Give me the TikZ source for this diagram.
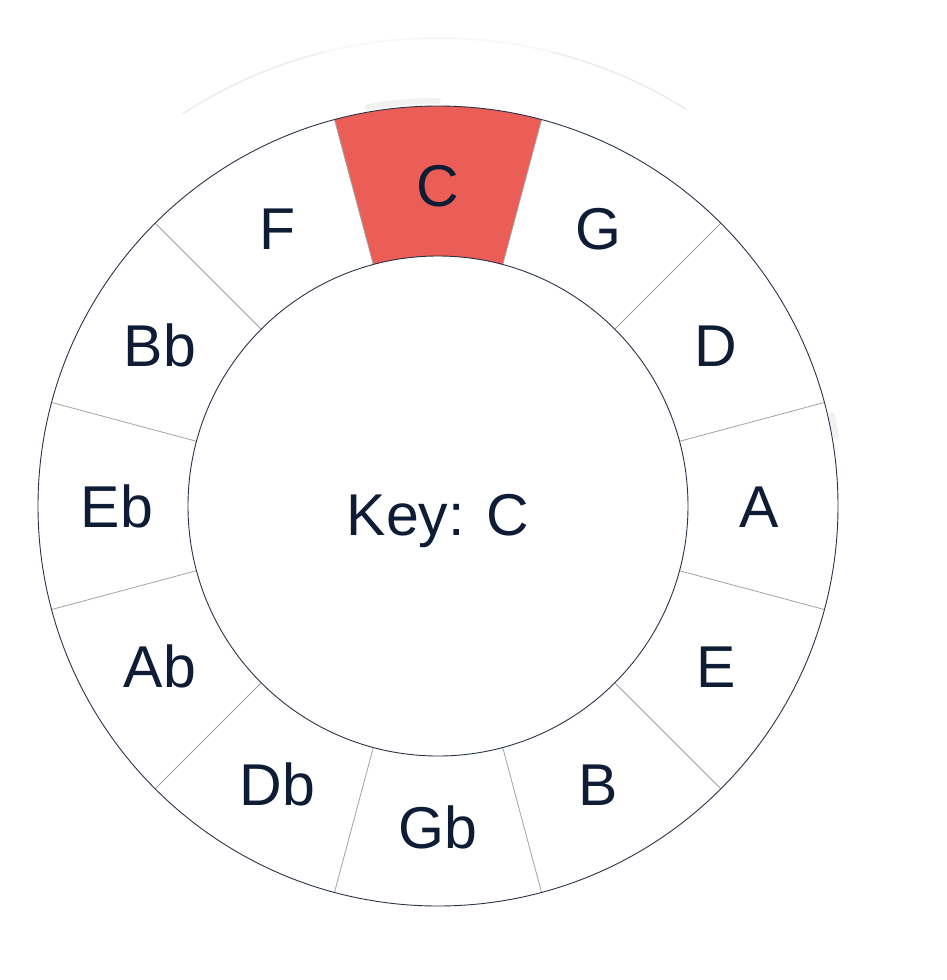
\documentclass[tikz,border=0pt]{standalone}
\usepackage{fontspec}
\setmainfont{Liberation Sans}
\definecolor{navy}{HTML}{0E1D35}
\definecolor{keyred}{HTML}{EA5E57}
\definecolor{ringcol}{HTML}{2A3346}
\definecolor{spokecol}{HTML}{A3A3A3}
\begin{document}
\begin{tikzpicture}[x=1pt,y=1pt,
  ring/.style={draw=ringcol,line width=0.9},
  spoke/.style={draw=spokecol,line width=0.8},
  note/.style={text=navy,inner sep=0,anchor=base,font=\fontsize{59}{70}\selectfont},
  faint/.style={line width=1.5},
  smudge/.style={draw=black!30,line width=6,line cap=round,opacity=0.18}]
\useasboundingbox[fill=white] (0,-980) rectangle (946,0);
\coordinate (O) at (438,-506);
% faint outer arc
\draw[faint,black!7] ([shift={(58:468)}]O) arc[start angle=58,end angle=76,radius=468];
\draw[faint,black!3] ([shift={(76:468)}]O) arc[start angle=76,end angle=104,radius=468];
\draw[faint,black!7] ([shift={(104:468)}]O) arc[start angle=104,end angle=123,radius=468];
% smudges
\draw[smudge] ([shift={(90:405)}]O) arc[start angle=90,end angle=100,radius=405];
\draw[smudge] ([shift={(10:404)}]O) arc[start angle=10,end angle=13,radius=404];
% highlighted segment
\fill[keyred] ([shift={(75:400)}]O) arc[start angle=75,end angle=105,radius=400]
  -- ([shift={(105:250)}]O) arc[start angle=105,end angle=75,radius=250] -- cycle;
% spokes
\foreach \a in {15,45,...,345}
  \draw[spoke] ([shift={(\a:250)}]O) -- ([shift={(\a:400)}]O);
% rings
\draw[ring] (O) circle[radius=400];
\draw[ring] (O) circle[radius=250];
% labels
\foreach \name [count=\i from 0] in {C,G,D,A,E,B,Gb,Db,Ab,Eb,Bb,F}{
  \pgfmathsetmacro\ang{90-30*\i}
  \path ([shift={(\ang:321)}]O) ++(0,-21) node[note] (n\i) {\name};
}
\node[note] (key) at (438,-535) {Key: C};
\end{tikzpicture}
\end{document}
